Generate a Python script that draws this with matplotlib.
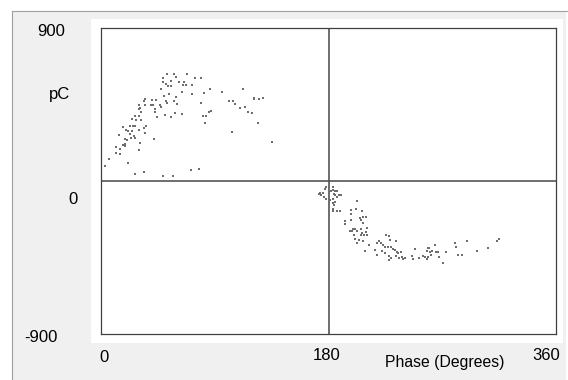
import matplotlib
matplotlib.use("Agg")
import matplotlib.pyplot as plt
from matplotlib.patches import Rectangle
from matplotlib.lines import Line2D

plt.rcParams['font.family'] = ['Liberation Sans', 'DejaVu Sans']

# positive half cycle cluster (phase in degrees, charge in pC)
pos_phase = [52.0, 57.5, 59.6, 68.0, 74.4, 78.8, 49.3, 55.4, 62.0, 65.7, 65.2, 67.5, 72.0,
             48.8, 51.4, 53.0, 55.1, 47.8, 64.1, 71.8, 81.3, 86.5, 95.8, 112.7, 49.6, 53.5,
             59.6, 34.8, 34.0, 40.4, 43.6, 51.2, 57.8, 52.5, 60.4, 30.4, 34.8, 39.9, 41.4,
             46.7, 47.5, 29.8, 30.9, 42.8, 79.4, 101.0, 104.8, 105.8, 110.0, 114.2, 121.0,
             125.0, 128.4, 121.0, 31.9, 43.0, 85.7, 87.3, 116.5, 119.5, 27.2, 30.4, 44.3,
             50.7, 55.1, 58.9, 64.4, 81.0, 83.1, 24.5, 27.4, 31.4, 82.0, 124.2, 23.0, 25.1,
             27.2, 17.4, 34.3, 35.9, 19.8, 21.1, 24.5, 29.8, 34.6, 103.6, 14.2, 23.0, 25.9,
             18.7, 20.3, 24.0, 26.6, 41.9, 19.0, 30.6, 17.1, 19.0, 135.3, 11.9, 15.0, 30.1,
             12.1, 15.3, 6.6, 3.2, 21.4, 71.0, 77.5, 27.2, 34.3, 48.8, 56.7]
pos_pc = [628, 632, 610, 632, 604, 604, 604, 587, 581, 583, 565, 565, 565,
          581, 569, 561, 559, 539, 526, 514, 520, 541, 526, 541, 502, 514,
          496, 481, 473, 475, 479, 473, 473, 457, 453, 447, 447, 447, 447,
          447, 436, 426, 432, 426, 457, 469, 469, 453, 432, 434, 490,
          481, 490, 481, 408, 408, 408, 414, 408, 402, 385, 385, 379,
          391, 379, 402, 392, 385, 385, 367, 361, 357, 339, 339, 324, 324,
          322, 318, 314, 324, 300, 294, 294, 300, 281, 291, 273, 279, 265,
          249, 243, 255, 255, 249, 220, 222, 210, 204, 228, 198, 189, 183,
          165, 159, 132, 87, 108, 65, 71, 42, 51, 30, 32]

# negative half cycle cluster
neg_phase = [178.0, 180.1, 183.3, 173.2, 175.9, 172.2, 174.3, 176.9, 181.7, 183.8, 185.4,
             186.4, 184.3, 185.4, 188.5, 189.6, 176.4, 178.0, 180.6, 181.2, 183.8, 187.0,
             184.9, 180.1, 183.8, 184.3, 183.3, 183.8, 187.0, 189.1, 202.3, 198.1, 201.8,
             206.5, 198.1, 204.9, 207.6, 209.7, 206.0, 207.6, 192.8, 193.3, 197.5, 199.6,
             201.2, 197.0, 198.6, 202.8, 206.0, 210.2, 209.7, 206.5, 205.4, 208.1, 210.2,
             200.2, 201.2, 204.4, 202.3, 207.6, 211.8, 208.6, 218.1, 219.7, 221.8, 222.9,
             225.5, 228.2, 228.7, 233.4, 227.1, 229.7, 231.3, 232.4, 234.0, 235.0, 237.1,
             224.5, 217.1, 218.6, 222.3, 225.0, 227.6, 229.2, 233.4, 235.5, 238.2, 239.2,
             240.3, 228.2, 246.1, 246.6, 248.7, 251.4, 255.1, 256.1, 257.7, 258.8, 258.2,
             259.8, 260.4, 258.8, 261.9, 260.9, 264.1, 265.1, 266.7, 267.8, 270.4, 273.0,
             280.4, 280.9, 282.5, 285.7, 289.4, 297.3, 306.3, 313.2, 314.7]
neg_pc = [-37, -37, -37, -69, -73, -77, -80, -49, -57, -53, -57,
          -61, -77, -84, -80, -84, -96, -104, -100, -112, -104, -96,
          -124, -135, -131, -143, -163, -175, -175, -175, -116, -171, -163,
          -175, -194, -218, -210, -210, -229, -249, -237, -253, -229, -280,
          -280, -296, -296, -292, -284, -277, -300, -308, -320, -320, -320,
          -320, -339, -347, -363, -351, -375, -410, -363, -351, -367, -375,
          -320, -324, -347, -355, -386, -390, -398, -406, -418, -422, -418,
          -390, -406, -433, -414, -422, -441, -453, -441, -453, -449, -461,
          -453, -465, -441, -461, -398, -453, -441, -449, -457, -445, -414,
          -394, -418, -394, -410, -433, -375, -418, -418, -445, -480, -418,
          -363, -390, -433, -433, -351, -414, -394, -351, -339]

W, H = 568, 380
fig = plt.figure(figsize=(W / 100, H / 100), dpi=100)
fig.patch.set_facecolor('white')


def fx(x):
    return x / W


def fy(y):
    return 1 - y / H


# grey window panel with its border and the white plotting area inside
fig.patches.append(Rectangle((fx(12), 0), fx(566) - fx(12), fy(11), transform=fig.transFigure,
                             facecolor='#f0f0f0', edgecolor='none', zorder=-3))
fig.lines.append(Line2D([fx(12), fx(12)], [0, fy(11)], transform=fig.transFigure,
                        color='#a0a0a0', lw=0.8, zorder=-2))
fig.lines.append(Line2D([fx(12), 1], [fy(11), fy(11)], transform=fig.transFigure,
                        color='#a0a0a0', lw=0.8, zorder=-2))
fig.patches.append(Rectangle((fx(91), fy(343)), fx(563) - fx(91), fy(19) - fy(343),
                             transform=fig.transFigure, facecolor='white',
                             edgecolor='none', zorder=-2))

ax = fig.add_axes([fx(101), fy(334), fx(556) - fx(101), fy(28) - fy(334)])
ax.set_zorder(1)
ax.set_xlim(0, 360)
ax.set_ylim(-900, 900)
ax.set_xticks([])
ax.set_yticks([])
for s in ax.spines.values():
    s.set_color('#404040')
    s.set_linewidth(0.9)

ax.axvline(180, color='#555555', lw=1.2, zorder=1)
ax.axhline(0, color='#555555', lw=1.2, zorder=1)

ax.scatter(pos_phase, pos_pc, s=1.4, marker='s', color='#6e6e6e', linewidths=0, zorder=2)
ax.scatter(neg_phase, neg_pc, s=1.4, marker='s', color='#6e6e6e', linewidths=0, zorder=2)

fs = 12
fig.text(fx(51), fy(31), '900', fontsize=fs, ha='center', va='center')
fig.text(fx(60), fy(94), 'pC', fontsize=fs, ha='center', va='center')
fig.text(fx(73), fy(199), '0', fontsize=fs, ha='center', va='center')
fig.text(fx(41), fy(337), '-900', fontsize=fs, ha='center', va='center')
fig.text(fx(104), fy(358), '0', fontsize=fs, ha='center', va='center')
fig.text(fx(327), fy(355), '180', fontsize=fs, ha='center', va='center')
fig.text(fx(546), fy(355), '360', fontsize=fs, ha='center', va='center')
fig.text(fx(445), fy(363), 'Phase (Degrees)', fontsize=11.3, ha='center', va='center')

fig.savefig('out.png', dpi=100)
